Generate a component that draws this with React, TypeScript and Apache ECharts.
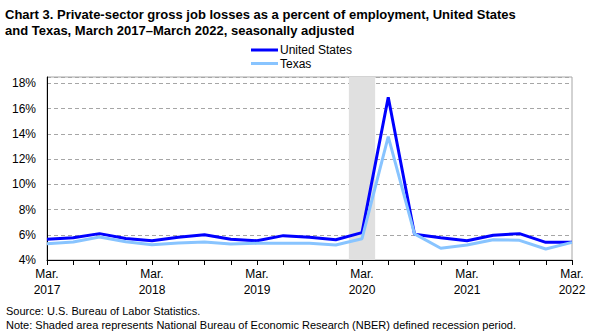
import React, { useEffect, useRef } from "react";
import * as echarts from "echarts";

const quarterIndex = [0,1,2,3,4,5,6,7,8,9,10,11,12,13,14,15,16,17,18,19,20];
const unitedStates = [5.64,5.77,6.09,5.70,5.53,5.80,6.00,5.64,5.53,5.93,5.80,5.61,6.17,16.9,6.04,5.77,5.53,5.96,6.09,5.40,5.40];
const texas = [5.29,5.42,5.82,5.45,5.21,5.34,5.42,5.26,5.32,5.32,5.32,5.19,5.69,13.77,6.07,4.93,5.19,5.61,5.56,4.87,5.40];
const startYear = 2017;
const recession = [11.5, 12.5];
const yTicks = [4, 6, 8, 10, 12, 14, 16, 18];

export default function App() {
  const ref = useRef<HTMLDivElement>(null);
  useEffect(() => {
    const chart = echarts.init(ref.current!, null, { renderer: "svg" });
    const font = "Arial, 'Liberation Sans', sans-serif";
    chart.setOption({
      animation: false,
      textStyle: { fontFamily: font },
      title: {
        text: "Chart 3. Private-sector gross job losses as a percent of employment, United States\nand Texas, March 2017\u2013March 2022, seasonally adjusted",
        left: 5,
        top: 6,
        padding: 0,
        textStyle: { fontFamily: font, fontSize: 13, fontWeight: "bold", color: "#000", lineHeight: 16 },
      },
      legend: {
        orient: "vertical",
        left: 251,
        top: 44,
        padding: 0,
        itemWidth: 27,
        itemHeight: 3,
        itemGap: 1.5,
        icon: "rect",
        textStyle: { fontFamily: font, fontSize: 12, color: "#000", padding: [0, 0, 0, -3] },
        data: ["United States", "Texas"],
      },
      grid: { left: 47, right: 31, top: 77, bottom: 73, show: true, borderColor: "#a6a6a6", borderWidth: 1 },
      xAxis: {
        type: "value",
        min: 0,
        max: 20,
        interval: 1,
        axisLine: { show: true, lineStyle: { color: "#000", width: 1 } },
        axisTick: { show: true, length: 5, lineStyle: { color: "#000" } },
        splitLine: { show: false },
        axisLabel: {
          margin: 6,
          fontSize: 12,
          lineHeight: 16,
          color: "#000",
          fontFamily: font,
          formatter: (v: number) => (v % 4 === 0 ? `Mar.\n${startYear + v / 4}` : ""),
        },
      },
      yAxis: {
        type: "value",
        min: 4,
        max: 18.5,
        interval: 2,
        axisLine: { show: true, lineStyle: { color: "#000", width: 1 } },
        axisTick: { show: false },
        splitLine: { show: true, lineStyle: { color: "#a6a6a6", type: [4, 3] } },
        axisLabel: {
          margin: 11,
          fontSize: 12,
          color: "#000",
          fontFamily: font,
          formatter: (v: number) => (yTicks.includes(v) ? `${v}%` : ""),
        },
      },
      series: [
        {
          name: "recession",
          type: "line",
          data: [],
          z: 1,
          silent: true,
          markArea: {
            silent: true,
            itemStyle: { color: "#e0e0e0" },
            data: [[{ xAxis: recession[0] }, { xAxis: recession[1] }]],
          },
        },
        {
          name: "United States",
          type: "line",
          z: 3,
          symbol: "none",
          lineStyle: { color: "#0000ff", width: 3 },
          itemStyle: { color: "#0000ff" },
          data: quarterIndex.map((i) => [i, unitedStates[i]]),
        },
        {
          name: "Texas",
          type: "line",
          z: 4,
          symbol: "none",
          lineStyle: { color: "#88c4ff", width: 3 },
          itemStyle: { color: "#88c4ff" },
          data: quarterIndex.map((i) => [i, texas[i]]),
        },
      ],
      graphic: [
        {
          type: "text",
          x: 6,
          y: 311,
          style: { text: "Source: U.S. Bureau of Labor Statistics.", fontSize: 11, fontFamily: font, fill: "#000", verticalAlign: "middle" },
        },
        {
          type: "text",
          x: 6,
          y: 325,
          style: {
            text: "Note: Shaded area represents National Bureau of Economic Research (NBER) defined recession period.",
            fontSize: 11,
            fontFamily: font,
            fill: "#000",
            verticalAlign: "middle",
          },
        },
      ],
    });
    return () => chart.dispose();
  }, []);
  return <div ref={ref} style={{ width: 603, height: 333, position: "absolute", left: 0, top: 0 }} />;
}
